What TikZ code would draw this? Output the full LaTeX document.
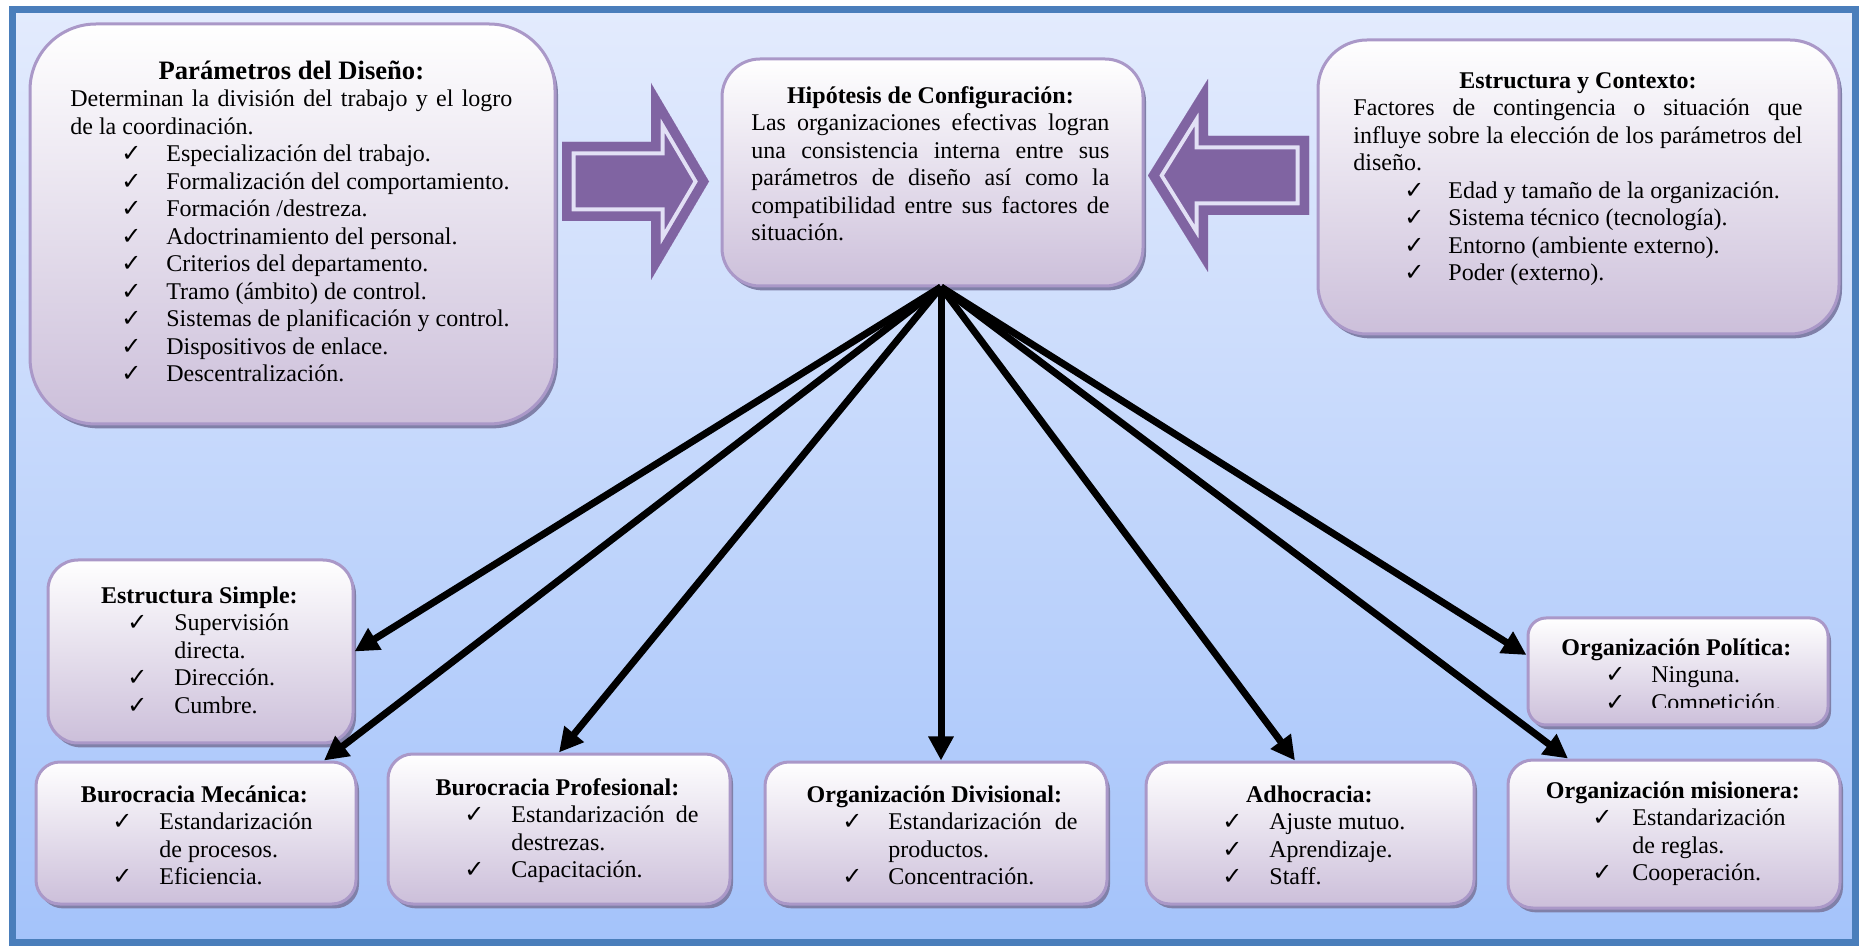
\documentclass[tikz,border=0pt]{standalone}
\usepackage{fontspec}
\setmainfont{Liberation Serif}
\newfontfamily\ckfont{DejaVu Sans}
\usetikzlibrary{arrows.meta,shadows,calc}

\definecolor{bgtop}{RGB}{227,235,253}
\definecolor{bgbot}{RGB}{164,195,250}
\definecolor{framec}{RGB}{74,126,187}
\definecolor{boxbot}{RGB}{204,191,218}
\definecolor{boxline}{RGB}{170,152,200}
\definecolor{boxshadow}{RGB}{128,128,168}
\definecolor{purp}{RGB}{128,100,162}
\definecolor{purpline}{RGB}{226,224,245}

% check mark, heading line, plain line and checked item
\newcommand\ckm{{\ckfont\fontsize{12pt}{12pt}\selectfont ✓}}
\newcommand\hd[1]{\centerline{\bfseries\strut #1}}
\newcommand\hdbig[1]{\centerline{\bfseries\fontsize{13.3pt}{13.75pt}\selectfont\strut #1}}
\newcommand\tline[1]{\par\noindent\strut #1}
\newcommand\itm[3]{\par\noindent\strut\hspace*{#1}\makebox[\dimexpr #2-#1\relax][l]{\ckm}#3}

\tikzset{
  panel/.style={draw=boxline, line width=1.5pt, rounded corners=#1,
    top color=white, bottom color=boxbot, inner sep=0pt,
    drop shadow={shadow xshift=1.5pt, shadow yshift=-2.2pt, fill=boxshadow, opacity=1}},
  txt/.style={anchor=north west, inner sep=0pt, text width=#1, align=justify,
    font=\fontsize{12pt}{13.75pt}\selectfont},
  conn/.style={draw=black, line width=3.5pt, -{Triangle[width=12pt,length=12pt]}}
}

% block arrow outlines
\def\arrowR{(562,142) -- (651,142) -- (651,83) -- (709,181.5) -- (651,280) -- (651,221) -- (562,221) -- cycle}
\def\arrowL{(1309,136) -- (1208,136) -- (1208,79) -- (1148,175.5) -- (1208,272) -- (1208,215) -- (1309,215) -- cycle}

\begin{document}
\begin{tikzpicture}[x=0.5pt,y=-0.5pt]
\useasboundingbox (0,0) rectangle (1860,946);
\fill[white] (0,0) rectangle (1860,946);
\shade[top color=bgtop, bottom color=bgbot] (12.5,9.5) rectangle (1855,942.5);
\draw[framec, line width=3.5pt] (12.5,9.5) rectangle (1855,942.5);

% purple block arrows with an inset light outline
\foreach \shp in {\arrowR,\arrowL}{
  \begin{scope}
    \clip \shp;
    \fill[purp] \shp;
    \draw[purpline, line width=13.5pt, line join=miter] \shp;
    \draw[purp, line width=9.5pt, line join=miter] \shp;
  \end{scope}
}

% panels
\node[panel=33pt, minimum width=262.5pt, minimum height=200pt] (P) at (292.5,224) {};
\node[panel=19pt, minimum width=210.5pt, minimum height=113.5pt] (H) at (932.5,172.5) {};
\node[panel=24.5pt, minimum width=260.5pt, minimum height=147pt] (E) at (1578.5,187) {};
\node[panel=15pt, minimum width=152.5pt, minimum height=91.5pt] (S) at (200.5,651.5) {};
\node[panel=12pt, minimum width=160pt, minimum height=71pt] (M) at (196,833) {};
\node[panel=12.5pt, minimum width=171pt, minimum height=75pt] (B) at (559,829) {};
\node[panel=12pt, minimum width=171pt, minimum height=71pt] (D) at (936,833) {};
\node[panel=12pt, minimum width=164pt, minimum height=71pt] (A) at (1310,833) {};
\node[panel=9pt, minimum width=150pt, minimum height=53.5pt] (O) at (1678,671.5) {};
\node[panel=12.5pt, minimum width=166pt, minimum height=74pt] (N) at (1674,834) {};

% texts
\node[txt=221pt] (Pt) at (70,59.75) {\hdbig{Parámetros del Diseño:}%
\tline{Determinan la división del trabajo y el logro\linebreak de la coordinación.}%
\itm{25.5pt}{48pt}{Especialización del trabajo.}%
\itm{25.5pt}{48pt}{Formalización del comportamiento.}%
\itm{25.5pt}{48pt}{Formación /destreza.}%
\itm{25.5pt}{48pt}{Adoctrinamiento del personal.}%
\itm{25.5pt}{48pt}{Criterios del departamento.}%
\itm{25.5pt}{48pt}{Tramo (ámbito) de control.}%
\itm{25.5pt}{48pt}{Sistemas de planificación y control.}%
\itm{25.5pt}{48pt}{Dispositivos de enlace.}%
\itm{25.5pt}{48pt}{Descentralización.}};

\node[txt=179pt] (Ht) at (751,83.75) {\hd{Hipótesis de Configuración:}%
\tline{Las organizaciones efectivas logran\linebreak una consistencia interna entre sus\linebreak parámetros de diseño así como la\linebreak compatibilidad entre sus factores de\linebreak situación.}};

\node[txt=224.5pt] (Et) at (1353,68.75) {\hd{Estructura y Contexto:}%
\tline{Factores de contingencia o situación que\linebreak influye sobre la elección de los parámetros del\linebreak diseño.}%
\itm{25.5pt}{47.5pt}{Edad y tamaño de la organización.}%
\itm{25.5pt}{47.5pt}{Sistema técnico (tecnología).}%
\itm{25.5pt}{47.5pt}{Entorno (ambiente externo).}%
\itm{25.5pt}{47.5pt}{Poder (externo).}};

\node[txt=132.5pt] (St) at (66.5,583.75) {\hd{Estructura Simple:}%
\itm{30.25pt}{53.75pt}{Supervisión\newline\hspace*{53.75pt}directa.}%
\itm{30.25pt}{53.75pt}{Dirección.}%
\itm{30.25pt}{53.75pt}{Cumbre.}};

\node[txt=140pt] (Mt) at (54,782.75) {\hd{Burocracia Mecánica:}%
\itm{29pt}{52.5pt}{Estandarización\newline\hspace*{52.5pt}de procesos.}%
\itm{29pt}{52.5pt}{Eficiencia.}};

\node[txt=141pt] (Bt) at (416,775.75) {\hd{Burocracia Profesional:}%
\itm{24pt}{47.5pt}{Estandarización\hfill de\newline\hspace*{47.5pt}destrezas.}%
\itm{24pt}{47.5pt}{Capacitación.}};

\node[txt=143pt] (Dt) at (791,782.75) {\hd{Organización Divisional:}%
\itm{25.5pt}{48.5pt}{Estandarización\hfill de\newline\hspace*{48.5pt}productos.}%
\itm{25.5pt}{48.5pt}{Concentración.}};

\node[txt=140pt] (At) at (1169,782.75) {\hd{Adhocracia:}%
\itm{26.5pt}{50pt}{Ajuste mutuo.}%
\itm{26.5pt}{50pt}{Aprendizaje.}%
\itm{26.5pt}{50pt}{Staff.}};

\begin{scope}
  \clip (1528,618) rectangle (1828,708);
  \node[txt=130pt] (Ot) at (1546,635.75) {\hd{Organización Política:}%
  \itm{29.5pt}{52.5pt}{Ninguna.}%
  \itm{29.5pt}{52.5pt}{Competición.}};
\end{scope}

\node[txt=145pt] (Nt) at (1527.5,778.75) {\hd{Organización misionera:}%
\itm{32.25pt}{52.25pt}{Estandarización\newline\hspace*{52.25pt}de reglas.}%
\itm{32.25pt}{52.25pt}{Cooperación.}};

% connectors from the hypothesis panel
\coordinate (hub) at (941,287);
\draw[conn] (hub) -- (S.east);
\draw[conn] (hub) -- ($(M.north)+(128,0)$);
\draw[conn] (hub) -- (B.north);
\draw[conn] (hub) -- (hub |- D.north);
\draw[conn] (hub) -- ($(A.north)+(-15,0)$);
\draw[conn] (hub) -- ($(O.west)+(0,-16.5)$);
\draw[conn] (hub) -- ($(N.north)+(-106,0)$);
\end{tikzpicture}
\end{document}
